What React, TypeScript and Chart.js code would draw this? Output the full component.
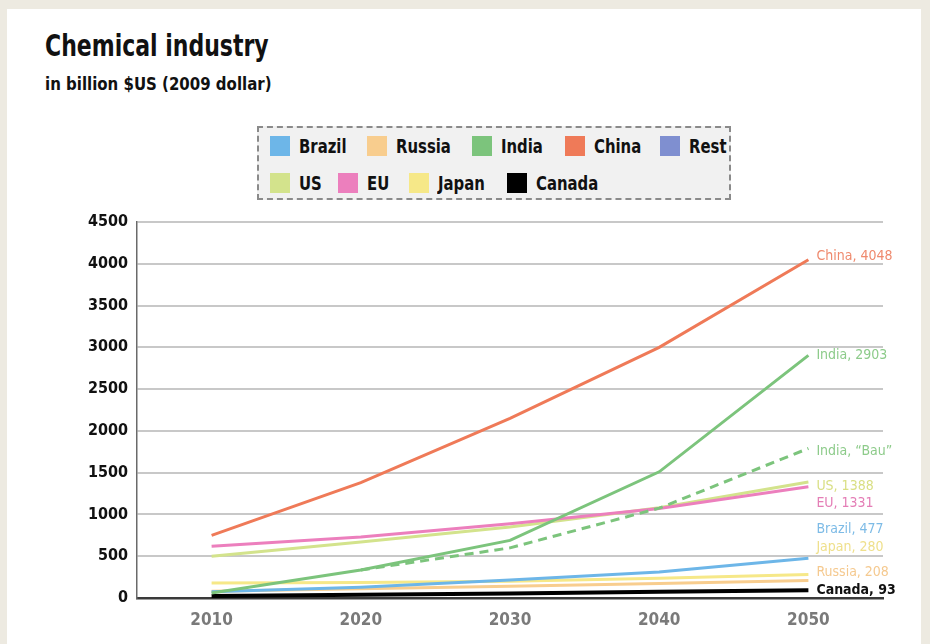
import React, { useEffect, useRef } from "react";
import { Chart, registerables } from "chart.js";

Chart.register(...registerables);

const years = [2010, 2020, 2030, 2040, 2050];
const brazil = [75, 130, 215, 310, 477];
const russia = [80, 110, 140, 175, 208];
const india = [60, 335, 690, 1510, 2903];
const indiaBau = [null, 335, 600, 1075, 1790];
const china = [750, 1380, 2150, 3000, 4048];
const rest: (number | null)[] = [];
const us = [500, 670, 850, 1080, 1388];
const eu = [620, 730, 890, 1070, 1331];
const japan = [180, 185, 200, 235, 280];
const canada = [25, 40, 55, 75, 93];
const yTicks = [0, 500, 1000, 1500, 2000, 2500, 3000, 3500, 4000, 4500];

const legendRow1 = ["Brazil", "Russia", "India", "China", "Rest"];
const legendRow2 = ["US", "EU", "Japan", "Canada"];

const colors: Record<string, string> = {
  Brazil: "#6db6e8",
  Russia: "#f8cd8e",
  India: "#7cc47c",
  China: "#ef7a58",
  Rest: "#7f8fd0",
  US: "#d3e38c",
  EU: "#ec7fbd",
  Japan: "#f6e888",
  Canada: "#000000",
};

const labelColors: Record<string, string> = {
  Brazil: "#7dbbe6",
  Russia: "#f5c98f",
  India: "#8dcb8a",
  China: "#ef8a6e",
  US: "#d9df84",
  EU: "#e47eb6",
  Japan: "#efe08c",
  Canada: "#111111",
};

// end labels: dataset key, text, vertical nudge (px)
const endLabels: { key: string; text: string; dy: number; bold?: boolean }[] = [
  { key: "China", text: "China, 4048", dy: -3 },
  { key: "India", text: "India, 2903", dy: 0 },
  { key: "IndiaBau", text: "India, \u201cBau\u201d", dy: 3 },
  { key: "US", text: "US, 1388", dy: 4 },
  { key: "EU", text: "EU, 1331", dy: 17 },
  { key: "Brazil", text: "Brazil, 477", dy: -29 },
  { key: "Japan", text: "Japan, 280", dy: -27 },
  { key: "Russia", text: "Russia, 208", dy: -8 },
  { key: "Canada", text: "Canada, 93", dy: 0, bold: true },
];

// legend layout (left edge of each swatch, px)
const legendX1 = [268, 365, 470, 563, 658];
const legendX2 = [268, 336, 407, 505];

const FONT = '"Liberation Sans Narrow", "DejaVu Sans Condensed", "Arial Narrow", "Liberation Sans", sans-serif';

export default function App() {
  const ref = useRef<HTMLCanvasElement | null>(null);

  useEffect(() => {
    if (!ref.current) return;
    const mk = (key: string, label: string, data: (number | null)[], color: string, extra: any = {}) => ({
      key,
      label,
      data: years.map((y, i) => ({ x: y, y: data[i] ?? null })),
      borderColor: color,
      backgroundColor: color,
      borderWidth: 3,
      pointRadius: 0,
      tension: 0,
      fill: false,
      spanGaps: false,
      ...extra,
    });
    const datasets: any[] = [
      mk("China", "China", china, colors.China),
      mk("India", "India", india, colors.India),
      mk("IndiaBau", "India Bau", indiaBau, colors.India, { borderDash: [9, 6] }),
      mk("EU", "EU", eu, colors.EU),
      mk("US", "US", us, colors.US),
      mk("Brazil", "Brazil", brazil, colors.Brazil),
      mk("Japan", "Japan", japan, colors.Japan),
      mk("Russia", "Russia", russia, colors.Russia),
      mk("Canada", "Canada", canada, colors.Canada, { borderWidth: 4 }),
      { key: "Rest", label: "Rest", data: rest, borderColor: colors.Rest, pointRadius: 0 },
    ];

    const endLabelPlugin = {
      id: "endLabels",
      afterDatasetsDraw(chart: any) {
        const ctx = chart.ctx;
        ctx.save();
        ctx.textBaseline = "middle";
        ctx.textAlign = "left";
        endLabels.forEach((l) => {
          const idx = chart.data.datasets.findIndex((d: any) => d.key === l.key);
          if (idx < 0) return;
          const meta = chart.getDatasetMeta(idx);
          const pt = meta.data[meta.data.length - 1];
          if (!pt) return;
          const base = l.key === "IndiaBau" ? "India" : l.key;
          ctx.fillStyle = labelColors[base];
          ctx.font = `${l.bold ? "bold " : ""}14px ${FONT}`;
          ctx.fillText(l.text, pt.x + 8, pt.y + l.dy);
        });
        ctx.restore();
      },
    };

    const chart = new Chart(ref.current, {
      type: "line",
      data: { datasets },
      plugins: [endLabelPlugin],
      options: {
        animation: false,
        responsive: false,
        devicePixelRatio: 1,
        layout: { padding: { left: 0, right: 47, top: 222, bottom: 0 } },
        plugins: { legend: { display: false }, tooltip: { enabled: false }, title: { display: false } },
        scales: {
          x: {
            type: "linear",
            min: 2005,
            max: 2055,
            afterBuildTicks: (s: any) => {
              s.ticks = years.map((v) => ({ value: v }));
            },
            afterFit: (s: any) => {
              s.height = 46;
            },
            grid: { display: false, drawTicks: false },
            border: { display: true, color: "#3a3a3a", width: 2.5 },
            ticks: {
              padding: 12,
              color: "#7a7a7a",
              font: { family: FONT, size: 17, weight: "bold" },
              callback: (v: any) => String(v),
            },
          },
          y: {
            min: 0,
            max: 4500,
            afterBuildTicks: (s: any) => {
              s.ticks = yTicks.map((v) => ({ value: v }));
            },
            afterFit: (s: any) => {
              s.width = 137;
            },
            grid: { color: "#c8c8c8", lineWidth: 2, drawTicks: false },
            border: { display: true, color: "#6a6a6a", width: 1.5 },
            ticks: {
              padding: 9,
              color: "#111",
              font: { family: FONT, size: 16, weight: "bold" },
              callback: (v: any) => String(v),
            },
          },
        },
      } as any,
    });
    return () => chart.destroy();
  }, []);

  const item = (name: string, x: number, top: number) => (
    <div key={name} style={{ position: "absolute", left: x - 257, top, height: 20 }}>
      <div style={{ position: "absolute", left: 0, top: 0, width: 20, height: 20, background: colors[name] }} />
      <span
        style={{
          position: "absolute",
          left: 29,
          top: 0,
          fontFamily: FONT,
          fontWeight: "bold",
          fontSize: 19,
          color: "#111",
          lineHeight: "20px",
          whiteSpace: "nowrap",
          transform: "scaleX(0.87)",
          transformOrigin: "left center",
        }}
      >
        {name}
      </span>
    </div>
  );

  return (
    <div style={{ position: "fixed", left: 0, top: 0, width: 930, height: 644, background: "#edeae1", overflow: "hidden" }}>
      <div style={{ position: "absolute", left: 7, top: 9, width: 914, height: 640, background: "#ffffff" }} />
      <div
        style={{
          position: "absolute",
          left: 45,
          top: 31,
          fontFamily: FONT,
          fontWeight: "bold",
          fontSize: 30,
          lineHeight: "30px",
          color: "#111",
          whiteSpace: "nowrap",
          transform: "scaleX(0.815)",
          transformOrigin: "left center",
        }}
      >
        Chemical industry
      </div>
      <div style={{ position: "absolute", left: 45, top: 76, fontFamily: FONT, fontWeight: "bold", fontSize: 17, lineHeight: "17px", color: "#111", whiteSpace: "nowrap", transform: "scaleX(0.98)", transformOrigin: "left center" }}>
        in billion $US (2009 dollar)
      </div>
      <div
        style={{
          position: "absolute",
          left: 257,
          top: 126,
          width: 474,
          height: 74,
          border: "2px dashed #8a8a8a",
          background: "#f1f1f1",
          boxSizing: "border-box",
        }}
      >
        {legendRow1.map((n, i) => item(n, legendX1[i], 8))}
        {legendRow2.map((n, i) => item(n, legendX2[i], 45))}
      </div>
      <canvas ref={ref} width={930} height={644} style={{ position: "absolute", left: 0, top: 0, width: 930, height: 644 }} />
    </div>
  );
}
